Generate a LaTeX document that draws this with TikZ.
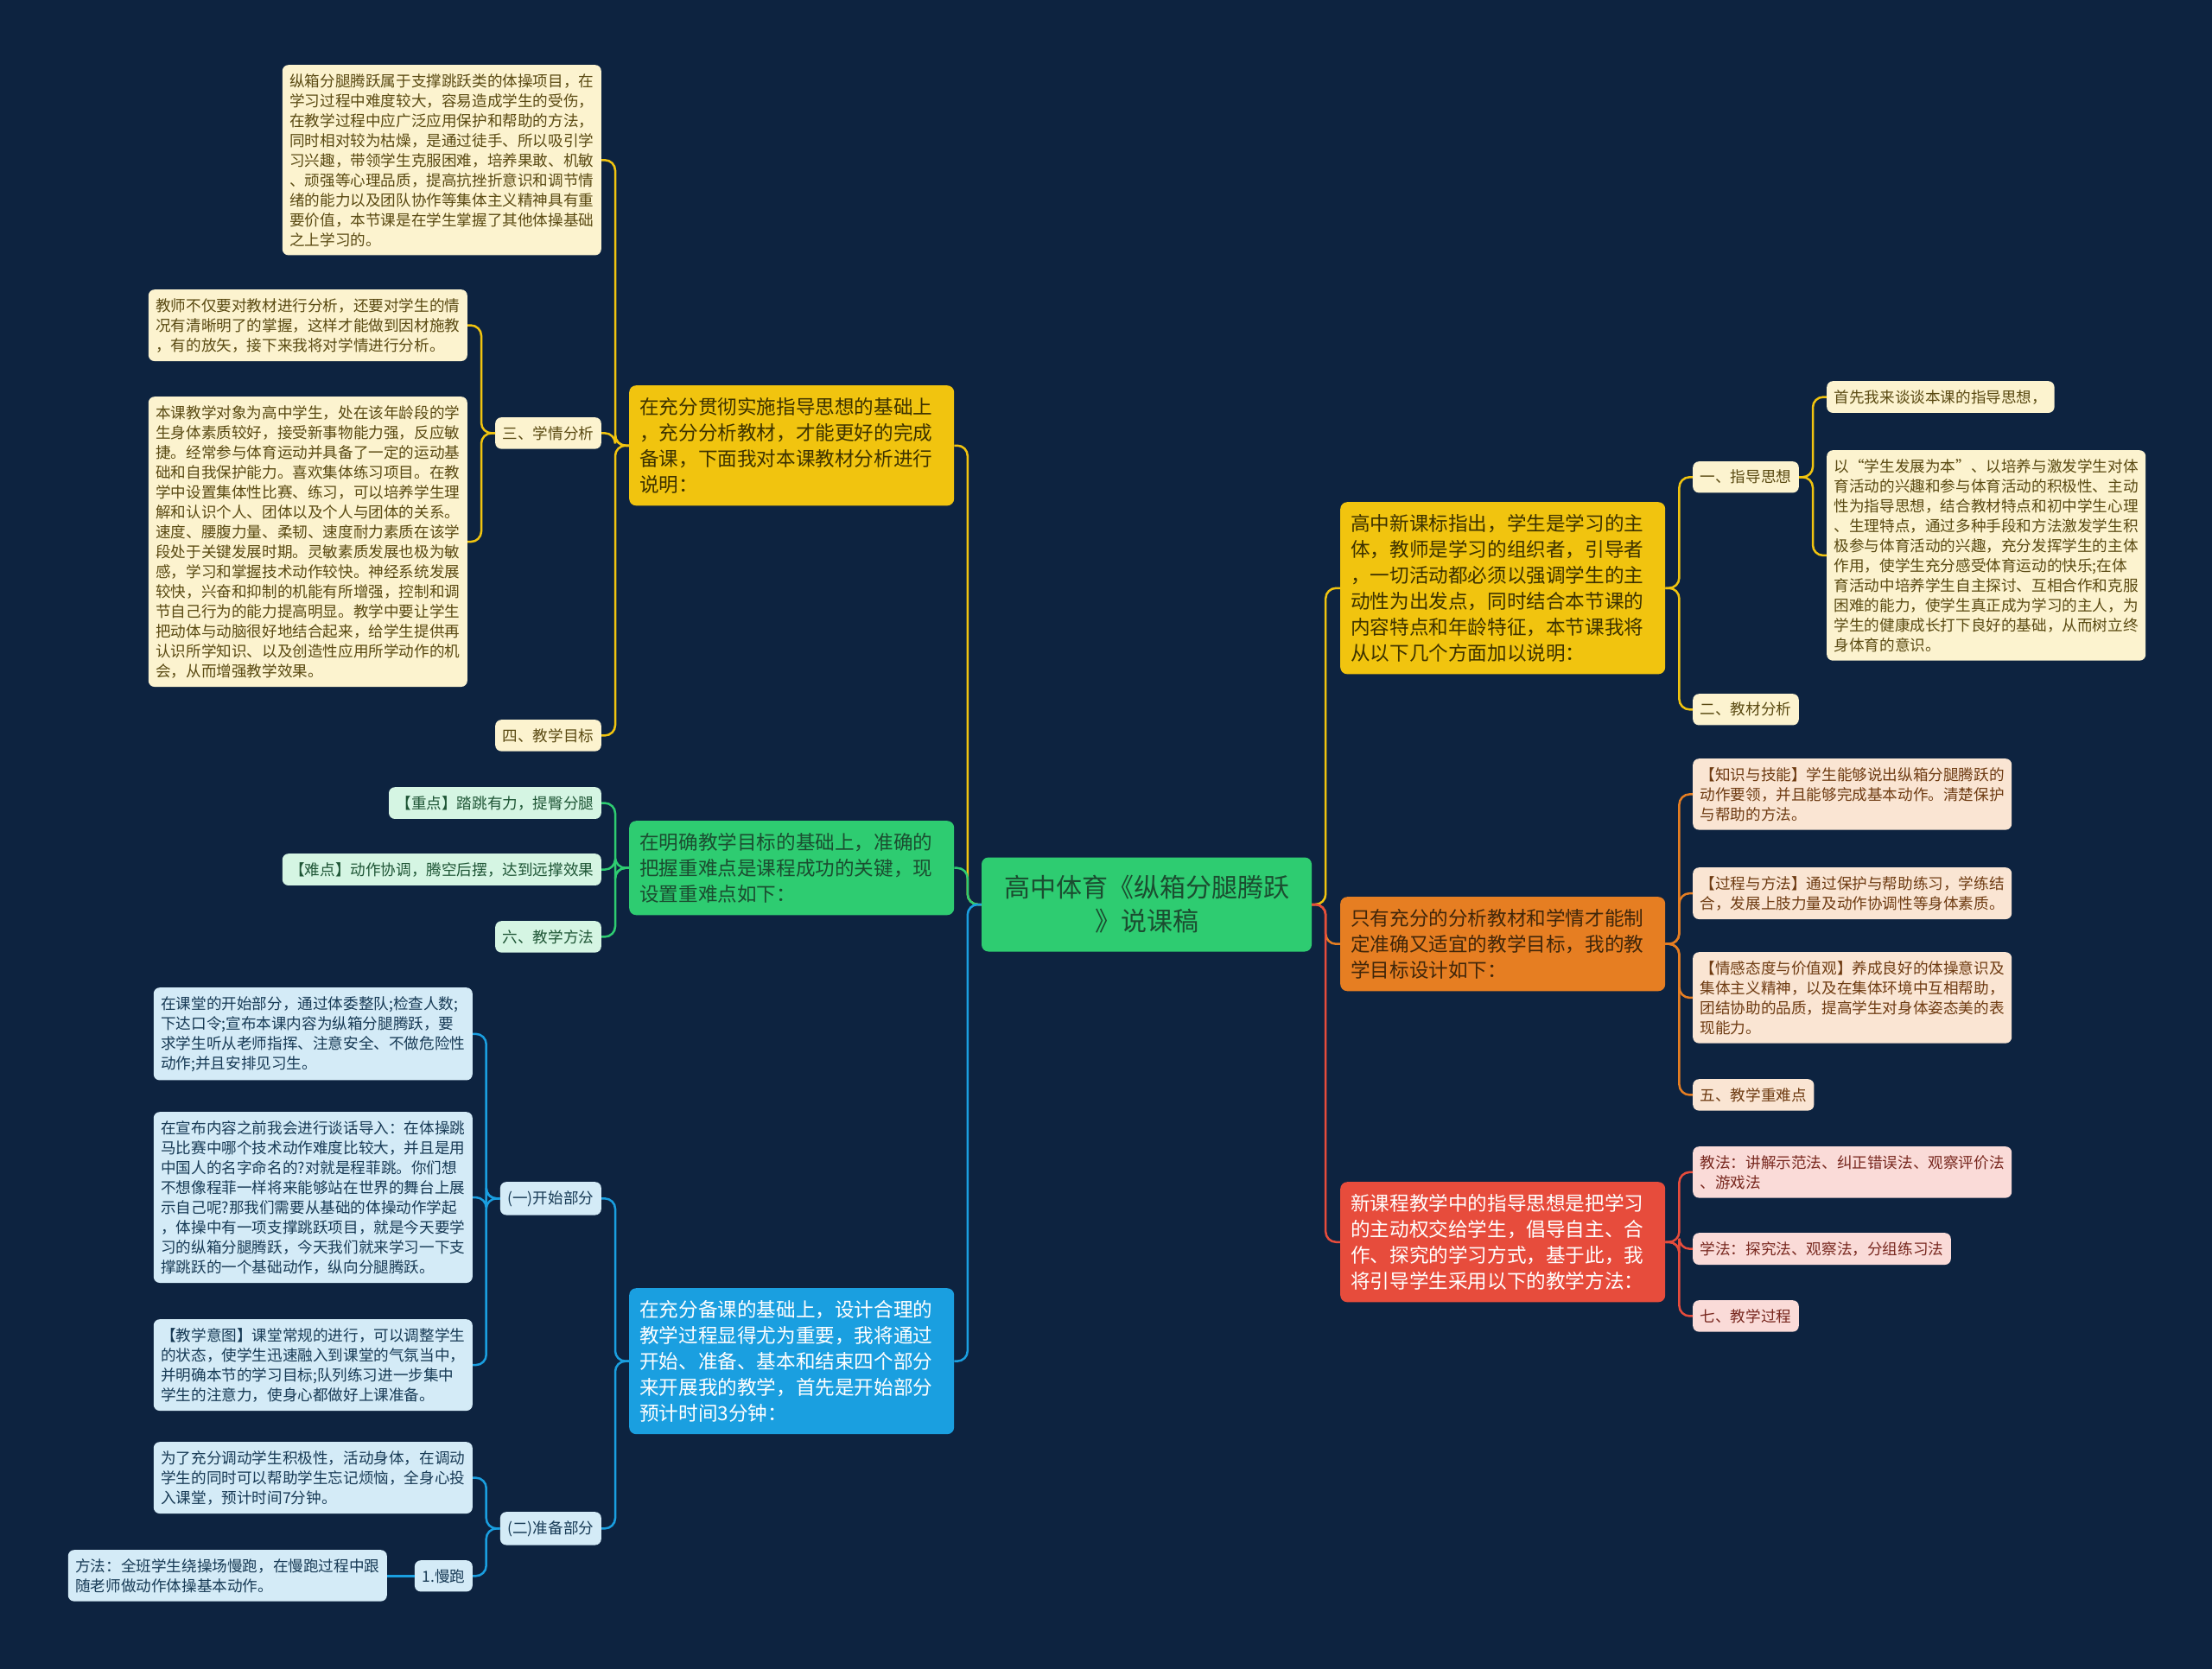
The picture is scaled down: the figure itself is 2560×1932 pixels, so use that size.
\documentclass[tikz,border=0pt]{standalone}
\usepackage{fontspec}
\setmainfont{Noto Sans CJK SC}
\usepackage{tikz}
\usetikzlibrary{calc,positioning}

\definecolor{bgnavy}{HTML}{0D2340}
\definecolor{cYlw}{HTML}{F1C40F}
\definecolor{cYlwT}{HTML}{3D3200}
\definecolor{cYlwL}{HTML}{FCF3CF}
\definecolor{cYlwLT}{HTML}{5A4A12}
\definecolor{cGrn}{HTML}{2ECC71}
\definecolor{cGrnT}{HTML}{1B4D30}
\definecolor{cGrnL}{HTML}{D5F5E3}
\definecolor{cGrnLT}{HTML}{1E5535}
\definecolor{cBlu}{HTML}{1A9FE0}
\definecolor{cBluL}{HTML}{D4EBF7}
\definecolor{cBluLT}{HTML}{173A55}
\definecolor{cOrg}{HTML}{E67E22}
\definecolor{cOrgT}{HTML}{40260A}
\definecolor{cOrgL}{HTML}{FAE5D3}
\definecolor{cOrgLT}{HTML}{6E3B12}
\definecolor{cRed}{HTML}{E74C3C}
\definecolor{cRedL}{HTML}{FADBD8}
\definecolor{cRedLT}{HTML}{78281F}

\newcommand\lffont{\fontsize{17.6pt}{23pt}\selectfont}
\newcommand\tkfont{\fontsize{22.6pt}{30pt}\selectfont}
\newcommand\rtfont{\fontsize{30pt}{39pt}\selectfont}

\begin{document}
\begin{tikzpicture}[x=1pt,y=-1pt,
    leaf/.style={rounded corners=7pt,inner xsep=8.5pt,inner ysep=10pt,align=left,font=\lffont},
    para/.style={leaf,text width=352pt},
    trunk/.style={rounded corners=8pt,inner xsep=12pt,inner ysep=14pt,align=left,text width=352pt,font=\tkfont,anchor=north west},
    root/.style={rounded corners=8pt,fill=cGrn,text=cGrnT,font=\rtfont,align=center,minimum width=382pt,minimum height=109pt},
    yl/.style={fill=cYlwL,text=cYlwLT},
    gn/.style={fill=cGrnL,text=cGrnLT},
    bl/.style={fill=cBluL,text=cBluLT},
    og/.style={fill=cOrgL,text=cOrgLT},
    rd/.style={fill=cRedL,text=cRedLT},
    link/.style={line width=2.5pt,rounded corners=12pt}]

    \useasboundingbox (0,0) rectangle (2560,1932);
    \fill[bgnavy] (0,0) rectangle (2560,1932);

    \node[root] (root) at (1327,1047) {高中体育《纵箱分腿腾跃\\》说课稿};

    \node[trunk,fill=cYlw,text=cYlwT] (A) at (728,446) {在充分贯彻实施指导思想的基础上\\，充分分析教材，才能更好的完成\\备课，下面我对本课教材分析进行\\说明：};
    \node[trunk,fill=cGrn,text=cGrnT] (B) at (728,950) {在明确教学目标的基础上，准确的\\把握重难点是课程成功的关键，现\\设置重难点如下：};
    \node[trunk,fill=cBlu,text=white] (D) at (728,1491) {在充分备课的基础上，设计合理的\\教学过程显得尤为重要，我将通过\\开始、准备、基本和结束四个部分\\来开展我的教学，首先是开始部分\\预计时间3分钟：};
    \node[trunk,fill=cYlw,text=cYlwT] (E) at (1551,581) {高中新课标指出，学生是学习的主\\体，教师是学习的组织者，引导者\\，一切活动都必须以强调学生的主\\动性为出发点，同时结合本节课的\\内容特点和年龄特征，本节课我将\\从以下几个方面加以说明：};
    \node[trunk,fill=cOrg,text=cOrgT] (F) at (1551,1038) {只有充分的分析教材和学情才能制\\定准确又适宜的教学目标，我的教\\学目标设计如下：};
    \node[trunk,fill=cRed,text=white] (G) at (1551,1368) {新课程教学中的指导思想是把学习\\的主动权交给学生，倡导自主、合\\作、探究的学习方式，基于此，我\\将引导学生采用以下的教学方法：};

    \node[para,yl,anchor=north east] (t1) at (696,75) {纵箱分腿腾跃属于支撑跳跃类的体操项目，在\\学习过程中难度较大，容易造成学生的受伤，\\在教学过程中应广泛应用保护和帮助的方法，\\同时相对较为枯燥，是通过徒手、所以吸引学\\习兴趣，带领学生克服困难，培养果敢、机敏\\、顽强等心理品质，提高抗挫折意识和调节情\\绪的能力以及团队协作等集体主义精神具有重\\要价值，本节课是在学生掌握了其他体操基础\\之上学习的。};
    \node[leaf,yl,anchor=north east] (san) at (696,483) {三、学情分析};
    \node[para,yl,anchor=north east] (t2) at (541,335) {教师不仅要对教材进行分析，还要对学生的情\\况有清晰明了的掌握，这样才能做到因材施教\\，有的放矢，接下来我将对学情进行分析。};
    \node[para,yl,anchor=north east] (t3) at (541,459) {本课教学对象为高中学生，处在该年龄段的学\\生身体素质较好，接受新事物能力强，反应敏\\捷。经常参与体育运动并具备了一定的运动基\\础和自我保护能力。喜欢集体练习项目。在教\\学中设置集体性比赛、练习，可以培养学生理\\解和认识个人、团体以及个人与团体的关系。\\速度、腰腹力量、柔韧、速度耐力素质在该学\\段处于关键发展时期。灵敏素质发展也极为敏\\感，学习和掌握技术动作较快。神经系统发展\\较快，兴奋和抑制的机能有所增强，控制和调\\节自己行为的能力提高明显。教学中要让学生\\把动体与动脑很好地结合起来，给学生提供再\\认识所学知识、以及创造性应用所学动作的机\\会，从而增强教学效果。};
    \node[leaf,yl,anchor=north east] (si) at (696,833) {四、教学目标};

    \node[leaf,gn,anchor=north east] (zd) at (696,911) {【重点】踏跳有力，提臀分腿};
    \node[leaf,gn,anchor=north east] (nd) at (696,988) {【难点】动作协调，腾空后摆，达到远撑效果};
    \node[leaf,gn,anchor=north east] (liu) at (696,1066) {六、教学方法};

    \node[leaf,bl,anchor=north east] (ks) at (696,1368) {(一)开始部分};
    \node[leaf,bl,anchor=north east] (zb) at (696,1750) {(二)准备部分};
    \node[para,bl,anchor=north east] (k1) at (547,1143) {在课堂的开始部分，通过体委整队;检查人数;\\下达口令;宣布本课内容为纵箱分腿腾跃，要\\求学生听从老师指挥、注意安全、不做危险性\\动作;并且安排见习生。};
    \node[para,bl,anchor=north east] (k2) at (547,1287) {在宣布内容之前我会进行谈话导入：在体操跳\\马比赛中哪个技术动作难度比较大，并且是用\\中国人的名字命名的?对就是程菲跳。你们想\\不想像程菲一样将来能够站在世界的舞台上展\\示自己呢?那我们需要从基础的体操动作学起\\，体操中有一项支撑跳跃项目，就是今天要学\\习的纵箱分腿腾跃，今天我们就来学习一下支\\撑跳跃的一个基础动作，纵向分腿腾跃。};
    \node[para,bl,anchor=north east] (k3) at (547,1527) {【教学意图】课堂常规的进行，可以调整学生\\的状态，使学生迅速融入到课堂的气氛当中，\\并明确本节的学习目标;队列练习进一步集中\\学生的注意力，使身心都做好上课准备。};
    \node[para,bl,anchor=north east] (p1) at (547,1669) {为了充分调动学生积极性，活动身体，在调动\\学生的同时可以帮助学生忘记烦恼，全身心投\\入课堂，预计时间7分钟。};
    \node[leaf,bl,anchor=north east] (mp) at (547,1806) {1.慢跑};
    \node[para,bl,anchor=north east] (m1) at (448,1794) {方法：全班学生绕操场慢跑，在慢跑过程中跟\\随老师做动作体操基本动作。};

    \node[leaf,yl,anchor=north west] (zx) at (1959,534) {一、指导思想};
    \node[leaf,yl,anchor=north west] (jc) at (1959,803) {二、教材分析};
    \node[leaf,yl,anchor=north west] (r1) at (2114,441) {首先我来谈谈本课的指导思想，};
    \node[para,yl,anchor=north west] (r2) at (2114,521) {以“学生发展为本”、以培养与激发学生对体\\育活动的兴趣和参与体育活动的积极性、主动\\性为指导思想，结合教材特点和初中学生心理\\、生理特点，通过多种手段和方法激发学生积\\极参与体育活动的兴趣，充分发挥学生的主体\\作用，使学生充分感受体育运动的快乐;在体\\育活动中培养学生自主探讨、互相合作和克服\\困难的能力，使学生真正成为学习的主人，为\\学生的健康成长打下良好的基础，从而树立终\\身体育的意识。};

    \node[para,og,anchor=north west] (o1) at (1959,878) {【知识与技能】学生能够说出纵箱分腿腾跃的\\动作要领，并且能够完成基本动作。清楚保护\\与帮助的方法。};
    \node[para,og,anchor=north west] (o2) at (1959,1004) {【过程与方法】通过保护与帮助练习，学练结\\合，发展上肢力量及动作协调性等身体素质。};
    \node[para,og,anchor=north west] (o3) at (1959,1102) {【情感态度与价值观】养成良好的体操意识及\\集体主义精神，以及在集体环境中互相帮助，\\团结协助的品质，提高学生对身体姿态美的表\\现能力。};
    \node[leaf,og,anchor=north west] (wu) at (1959,1249) {五、教学重难点};

    \node[para,rd,anchor=north west] (g1) at (1959,1327) {教法：讲解示范法、纠正错误法、观察评价法\\、游戏法};
    \node[leaf,rd,anchor=north west] (g2) at (1959,1427) {学法：探究法、观察法，分组练习法};
    \node[leaf,rd,anchor=north west] (qi) at (1959,1505) {七、教学过程};

    \draw[link,cYlw] (root.west) -- ++(-16,0) |- (A.east);
    \draw[link,cGrn] (root.west) -- ++(-16,0) |- (B.east);
    \draw[link,cBlu] (root.west) -- ++(-16,0) |- (D.east);
    \draw[link,cYlw] (root.east) -- ++(16,0) |- (E.west);
    \draw[link,cOrg] (root.east) -- ++(16,0) |- (F.west);
    \draw[link,cRed] (root.east) -- ++(16,0) |- (G.west);

    \foreach \n in {t1,san,si} \draw[link,cYlw] (A.west) -- ++(-16,0) |- (\n.east);
    \foreach \n in {t2,t3} \draw[link,cYlw] (san.west) -- ++(-16,0) |- (\n.east);
    \foreach \n in {zd,nd,liu} \draw[link,cGrn] (B.west) -- ++(-16,0) |- (\n.east);
    \foreach \n in {ks,zb} \draw[link,cBlu] (D.west) -- ++(-16,0) |- (\n.east);
    \foreach \n in {k1,k2,k3} \draw[link,cBlu] (ks.west) -- ++(-16,0) |- (\n.east);
    \foreach \n in {p1,mp} \draw[link,cBlu] (zb.west) -- ++(-16,0) |- (\n.east);
    \draw[link,cBlu] (mp.west) -- (mp.west -| m1.east);
    \foreach \n in {zx,jc} \draw[link,cYlw] (E.east) -- ++(16,0) |- (\n.west);
    \foreach \n in {r1,r2} \draw[link,cYlw] (zx.east) -- ++(16,0) |- (\n.west);
    \foreach \n in {o1,o2,o3,wu} \draw[link,cOrg] (F.east) -- ++(16,0) |- (\n.west);
    \foreach \n in {g1,g2,qi} \draw[link,cRed] (G.east) -- ++(16,0) |- (\n.west);

\end{tikzpicture}
\end{document}
